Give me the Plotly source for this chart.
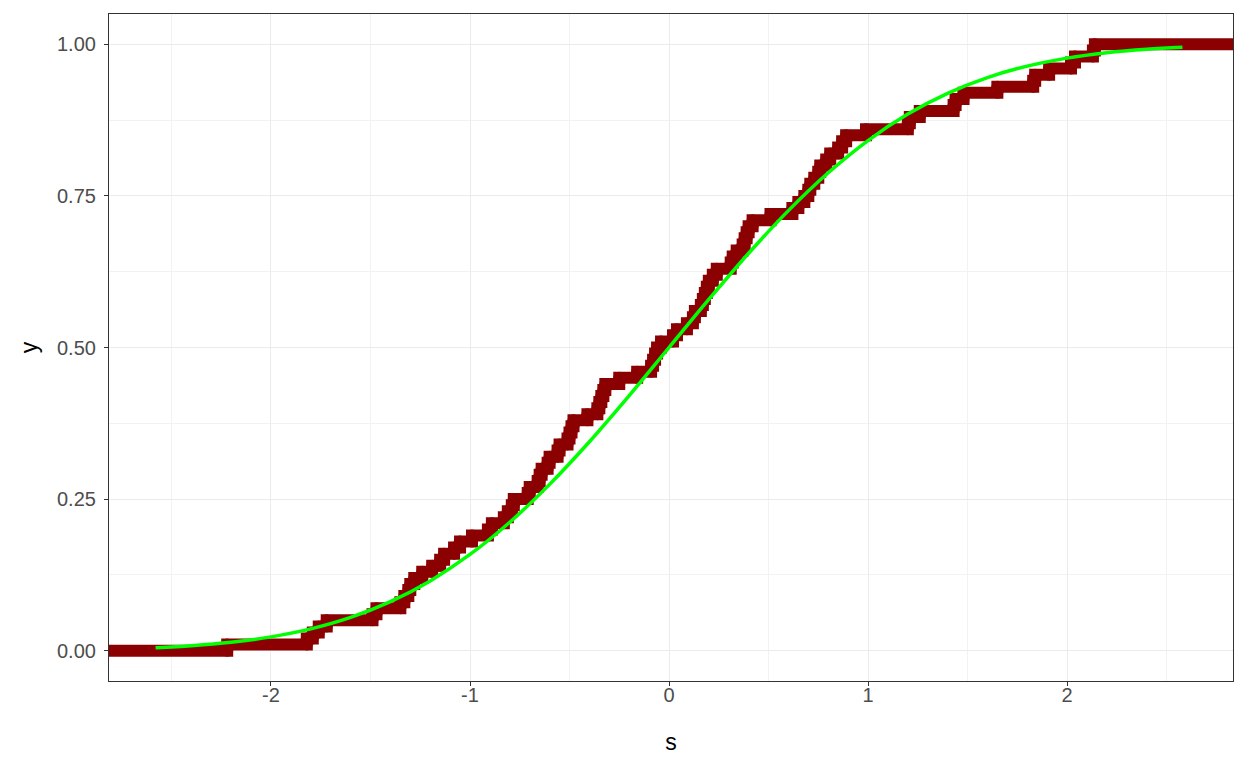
import plotly.graph_objects as go

sample_s = [-2.22, -1.82, -1.79, -1.76, -1.72, -1.49, -1.47, -1.35, -1.33, -1.31,
            -1.30, -1.28, -1.24, -1.19, -1.15, -1.13, -1.08, -1.05, -0.99, -0.91,
            -0.89, -0.83, -0.81, -0.79, -0.78, -0.71, -0.70, -0.66, -0.65, -0.64,
            -0.61, -0.60, -0.56, -0.55, -0.51, -0.50, -0.49, -0.48, -0.41, -0.36,
            -0.35, -0.34, -0.33, -0.32, -0.25, -0.16, -0.09, -0.08, -0.07, -0.06,
            -0.04, 0.02, 0.04, 0.09, 0.12, 0.13, 0.16, 0.17, 0.18, 0.19,
            0.20, 0.22, 0.24, 0.31, 0.32, 0.34, 0.37, 0.38, 0.39, 0.40,
            0.42, 0.51, 0.62, 0.65, 0.68, 0.70, 0.71, 0.73, 0.75, 0.76,
            0.79, 0.81, 0.85, 0.87, 0.89, 0.99, 1.20, 1.21, 1.26, 1.43,
            1.44, 1.48, 1.65, 1.83, 1.84, 1.91, 2.02, 2.04, 2.13, 2.14]

# Empirical CDF levels (i/n) at each jump
n = len(sample_s)
ecdf_levels = [(i + 1) / n for i in range(n)]

# Theoretical (green) curve
curve_s = [-2.58, -2.4, -2.2, -2.0, -1.8, -1.6, -1.4, -1.2, -1.0, -0.8, -0.6, -0.4, -0.2,
           0.0, 0.2, 0.4, 0.6, 0.8, 1.0, 1.2, 1.4, 1.6, 1.8, 2.0, 2.2, 2.4, 2.58]
curve_y = [0.0049, 0.0082, 0.0139, 0.0228, 0.0359, 0.0548, 0.0808, 0.1151, 0.1587,
           0.2119, 0.2743, 0.3446, 0.4207, 0.5, 0.5793, 0.6554, 0.7257, 0.7881,
           0.8413, 0.8849, 0.9192, 0.9452, 0.9641, 0.9772, 0.9861, 0.9918, 0.9951]

x_range = [-2.814, 2.834]
y_range = [-0.05, 1.05]

x_ticks = [-2, -1, 0, 1, 2]
x_tick_labels = ["-2", "-1", "0", "1", "2"]
y_ticks = [0.0, 0.25, 0.5, 0.75, 1.0]
y_tick_labels = ["0.00", "0.25", "0.50", "0.75", "1.00"]

step_x = [x_range[0] - 0.1] + sample_s + [x_range[1] + 0.1]
step_y = [0.0] + ecdf_levels + [1.0]
lower_y = [0.0] + ecdf_levels[:-1]

fig = go.Figure()
fig.add_trace(go.Scatter(x=step_x, y=step_y, mode="lines",
                         line=dict(color="#8B0000", width=12, shape="hv"),
                         showlegend=False, hoverinfo="skip"))
# round the corners of the steps like ggplot's thick points
fig.add_trace(go.Scatter(x=sample_s + sample_s, y=ecdf_levels + lower_y, mode="markers",
                         marker=dict(color="#8B0000", size=12, line=dict(width=0)),
                         showlegend=False, hoverinfo="skip"))
fig.add_trace(go.Scatter(x=curve_s, y=curve_y, mode="lines",
                         line=dict(color="#00FF00", width=3.5, shape="spline"),
                         showlegend=False))

font_family = "Liberation Sans, Arial, sans-serif"
axis_common = dict(
    showgrid=True, gridcolor="#EBEBEB", gridwidth=1.1,
    zeroline=False, showline=True, mirror=True, linecolor="#333333", linewidth=1.1,
    ticks="outside", ticklen=4, tickwidth=1.1, tickcolor="#333333",
    tickfont=dict(family=font_family, size=20, color="#4D4D4D"),
    minor=dict(showgrid=True, gridcolor="#F2F2F2", gridwidth=0.6),
)
fig.update_xaxes(range=x_range, tickvals=x_ticks, ticktext=x_tick_labels,
                 ticklabelstandoff=-8,
                 title=dict(text="s", font=dict(family=font_family, size=23, color="#000000"), standoff=28),
                 minor_dtick=0.5, minor_tick0=0.5, **axis_common)
fig.update_yaxes(range=y_range, tickvals=y_ticks, ticktext=y_tick_labels,
                 ticklabelstandoff=4,
                 title=dict(text="y", font=dict(family=font_family, size=23, color="#000000"), standoff=12),
                 minor_dtick=0.25, minor_tick0=0.125, **axis_common)
# the page adds an 8px body margin, so the figure is 8px smaller and shifted
fig.update_layout(width=1240, height=760, plot_bgcolor="white", paper_bgcolor="white",
                  margin=dict(l=101, r=15, t=6, b=87), showlegend=False)

fig.write_html("out.html")
